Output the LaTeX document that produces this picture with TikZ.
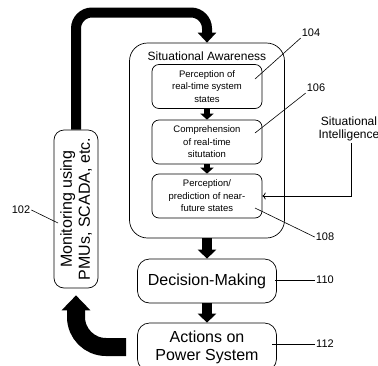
\documentclass[tikz,border=0pt]{standalone}
\usepackage{fontspec}
\setmainfont{Liberation Sans}
\usetikzlibrary{arrows.meta}

\begin{document}
\begin{tikzpicture}[x=1pt,y=-1pt,
		box/.style={draw,line width=0.7pt,rounded corners=7pt,align=center},
		small/.style={box,minimum width=110pt,minimum height=44pt,font=\fontsize{9.5}{12.5}\selectfont},
		big/.style={box,rounded corners=12pt,minimum width=139pt,minimum height=44pt,font=\fontsize{16}{18}\selectfont},
		num/.style={inner sep=1pt,font=\fontsize{11}{13}\selectfont},
		lead/.style={line width=0.6pt}]
		\useasboundingbox (0,0) rectangle (378,365);
		\path (207,140.5) node(sa)[box,rounded corners=18pt,minimum width=155pt,minimum height=195pt]{}
		(207,56) node(title)[font=\fontsize{12}{14}\selectfont]{Situational Awareness}
		(207,86.5) node(p1)[small]{Perception of\\real-time system\\states}
		(207,142) node(p2)[small]{Comprehension\\of real-time\\situtation}
		(207,196) node(p3)[small]{Perception/\\prediction of near-\\future states}
		(207,281) node(dec)[big]{Decision-Making}
		(207,347) node(act)[big,minimum height=48pt]{Actions on\\Power System}
		(76,209) node(mon)[big,rotate=90,rounded corners=10pt,minimum width=158pt]{Monitoring using\\PMUs, SCADA, etc.}
		(349,128.5) node(si)[align=center,inner sep=2pt,font=\fontsize{12}{13}\selectfont]{Situational\\Intelligence};
		% reference numbers
		\path (311,33) node(n104)[num]{104}
		(316,88) node(n106)[num]{106}
		(325,237) node(n108)[num]{108}
		(325,280) node(n110)[num]{110}
		(325,344) node(n112)[num]{112}
		(21,210) node(n102)[num]{102};
		\coordinate (k104) at (255,79);
		\coordinate (k106) at (255,133);
		\coordinate (k108) at (255,208);
		\coordinate (k110) at (275,280);
		\coordinate (k112) at (272,344);
		\coordinate (k102) at (58,223);
		\draw[lead] (n104.south west) to (k104);
		\draw[lead] (n106.south west) to (k106);
		\draw[lead] (n108.west) to (k108);
		\draw[lead] (n110.west) to (k110);
		\draw[lead] (n112.west) to (k112);
		\draw[lead] (n102.east) to (k102);
		% flow
		\draw[line width=6pt,-{Triangle[length=6pt,width=13pt]}] (p1) to (p2);
		\draw[line width=6pt,-{Triangle[length=6pt,width=13pt]}] (p2) to (p3);
		\draw[line width=10pt,-{Triangle[length=9pt,width=18pt]}] (sa) to (dec);
		\draw[line width=10pt,-{Triangle[length=9pt,width=18pt]}] (dec) to (act);
		\coordinate (top) at (140,12.5);
		\draw[line width=10pt,rounded corners=16pt,-{Triangle[length=10pt,width=18pt]}] (mon.east) |- (top) -| (sa.north);
		\draw[line width=18pt,rounded corners=30pt,shorten <=11pt,shorten >=7pt,-{Triangle[length=15pt,width=28pt]}] (act.west) -| (mon.west);
		\draw[line width=0.8pt,->] ([xshift=2pt]si.south) |- (p3.east);
	\end{tikzpicture}
\end{document}
